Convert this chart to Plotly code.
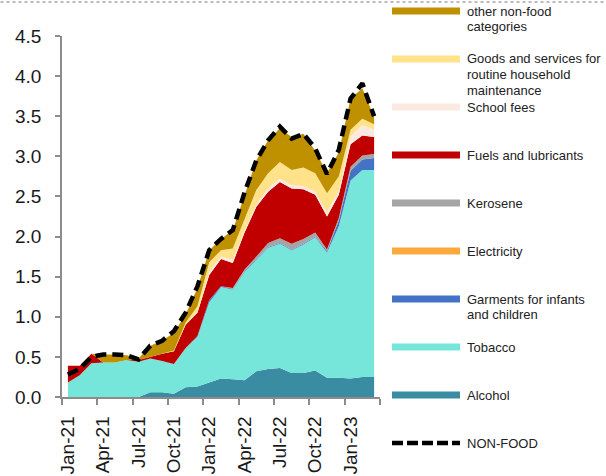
import plotly.graph_objects as go

months = ["Jan-21", "Feb-21", "Mar-21", "Apr-21", "May-21", "Jun-21", "Jul-21", "Aug-21", "Sep-21",
          "Oct-21", "Nov-21", "Dec-21", "Jan-22", "Feb-22", "Mar-22", "Apr-22", "May-22", "Jun-22",
          "Jul-22", "Aug-22", "Sep-22", "Oct-22", "Nov-22", "Dec-22", "Jan-23", "Feb-23", "Mar-23"]

alcohol = [0, 0, 0, 0, 0, 0, 0, .06, .06, .04, .12, .13, .18, .23, .22, .21, .32, .35, .36, .30,
           .30, .33, .24, .24, .23, .25, .25]
tobacco = [.18, .27, .42, .43, .43, .46, .44, .42, .39, .37, .49, .62, 1.00, 1.14, 1.12, 1.35, 1.39,
           1.51, 1.55, 1.53, 1.60, 1.66, 1.56, 1.89, 2.47, 2.58, 2.58]
garments = [0, 0, 0, 0, 0, 0, 0, 0, 0, 0, 0, .01, .03, .01, .01, .01, .01, .01, .01, .01, .01, .01,
            .02, .07, .12, .13, .15]
electricity = [0] * 27
kerosene = [0, 0, 0, 0, 0, 0, 0, 0, 0, 0, 0, 0, 0, 0, .01, .02, .03, .05, .06, .07, .06, .05, .02,
            .03, .05, .05, .05]
fuels = [.21, .12, .12, 0, 0, 0, .02, .02, .09, .16, .29, .29, .31, .34, .31, .46, .62, .64, .70,
         .69, .62, .47, .41, .29, .28, .25, .21]
school = [0, 0, 0, 0, 0, 0, 0, 0, 0, 0, 0, .02, .04, .03, .04, .03, .03, .04, .04, .04, .04, .04,
          .05, .05, .10, .13, .09]
goods = [0, 0, 0, 0, 0, 0, 0, 0, 0, .01, .03, .06, .12, .08, .14, .14, .18, .19, .21, .19, .23,
         .23, .24, .18, .08, .08, .07]
other = [0, 0, 0, .10, .10, .06, .02, .14, .16, .22, .10, .23, .15, .14, .23, .30, .37, .41, .42,
         .41, .42, .28, .25, .30, .39, .38, .09]
non_food = [.28, .35, .50, .53, .53, .52, .47, .64, .70, .82, 1.05, 1.38, 1.83, 1.97, 2.08, 2.55,
            2.95, 3.20, 3.37, 3.22, 3.28, 3.10, 2.78, 3.08, 3.72, 3.91, 3.50]

series = [
    ("Alcohol", alcohol, "#3a8ca3"),
    ("Tobacco", tobacco, "#76e6db"),
    ("Garments for infants and children", garments, "#4472c4"),
    ("Electricity", electricity, "#fba93c"),
    ("Kerosene", kerosene, "#a5a5a5"),
    ("Fuels and lubricants", fuels, "#c00000"),
    ("School fees", school, "#fbe9e2"),
    ("Goods and services for routine household maintenance", goods, "#ffe28a"),
    ("other non-food categories", other, "#bf9000"),
]

# legend rows: (lines of text, colour or None for dashed, pixel y of first line)
legend_rows = [
    (["other non-food", "categories"], "#bf9000", 11),
    (["Goods and services for", "routine household", "maintenance"], "#ffe28a", 59),
    (["School fees"], "#fbe9e2", 107),
    (["Fuels and lubricants"], "#c00000", 155),
    (["Kerosene"], "#a5a5a5", 203),
    (["Electricity"], "#fba93c", 251),
    (["Garments for infants", "and children"], "#4472c4", 299),
    (["Tobacco"], "#76e6db", 347),
    (["Alcohol"], "#3a8ca3", 395),
    (["NON-FOOD"], None, 443),
]

L, R, T, B = 62, 380, 36, 397


def px(x):
    return (x - L) / (R - L)


def py(y):
    return (B - y) / (B - T)


idx = list(range(len(months)))
fig = go.Figure()
for name, vals, color in series:
    fig.add_trace(
        go.Scatter(
            x=idx,
            y=vals,
            name=name,
            mode="lines",
            stackgroup="one",
            line={"width": 0, "color": color},
            fillcolor=color,
            showlegend=False,
        )
    )
fig.add_trace(
    go.Scatter(
        x=idx,
        y=non_food,
        name="NON-FOOD",
        mode="lines",
        line={"color": "black", "width": 4.5, "dash": "11px,6px"},
        showlegend=False,
    )
)

# thin dotted frame edge along the top of the picture
shapes = [
    dict(type="line", xref="paper", yref="paper", x0=px(0.5), x1=px(605.5), y0=py(2), y1=py(2),
         layer="above", line={"color": "#777777", "width": 1, "dash": "dot"}),
]
annotations = []
for lines, color, y0 in legend_rows:
    if color:
        shapes.append(dict(type="rect", xref="paper", yref="paper", x0=px(392), x1=px(460),
                           y0=py(y0 + 3.5), y1=py(y0 - 3.5), fillcolor=color, line={"width": 0}))
    else:
        shapes.append(dict(type="line", xref="paper", yref="paper", x0=px(392), x1=px(460),
                           y0=py(y0), y1=py(y0),
                           line={"color": "black", "width": 4.5, "dash": "11px,4px"}))
    for k, text in enumerate(lines):
        annotations.append(dict(xref="paper", yref="paper", x=px(465), y=py(y0 + k * 15.5),
                                xanchor="left", yanchor="middle", text=text, showarrow=False,
                                font={"size": 13, "color": "#222222"}))

fig.update_layout(
    width=606,
    height=476,
    margin={"l": L, "r": 606 - R, "t": T, "b": 476 - B},
    paper_bgcolor="white",
    plot_bgcolor="white",
    font={"family": "Liberation Sans, Arial, sans-serif", "color": "#1a1a1a"},
    showlegend=False,
    shapes=shapes,
    annotations=annotations,
    xaxis=dict(
        range=[-0.5, 26.5],
        tickmode="array",
        tickvals=idx[::3],
        ticktext=months[::3],
        tickangle=-90,
        ticks="",
        tickfont={"size": 19},
        ticklabelstandoff=10,
        showgrid=False,
        zeroline=False,
        showline=True,
        linecolor="#8c8c8c",
        linewidth=1.5,
        automargin=False,
        minor=dict(tickvals=[i - 0.5 for i in range(0, 28, 3)], ticks="outside", ticklen=6,
                   tickcolor="#8c8c8c", tickwidth=1.5, showgrid=False),
    ),
    yaxis=dict(
        range=[0, 4.5],
        tickvals=[0, 0.5, 1, 1.5, 2, 2.5, 3, 3.5, 4, 4.5],
        tickformat=".1f",
        ticks="outside",
        ticklen=5,
        tickcolor="#8c8c8c",
        tickwidth=1.5,
        tickfont={"size": 19},
        ticklabelstandoff=10,
        showgrid=False,
        zeroline=False,
        showline=True,
        linecolor="#8c8c8c",
        linewidth=1.5,
        automargin=False,
    ),
)

# the page's default body margin would push the 606x476 figure 8px down and right
fig.write_html(
    "out.html",
    config={"displayModeBar": False},
    post_script="document.body.style.margin = '0';",
)
